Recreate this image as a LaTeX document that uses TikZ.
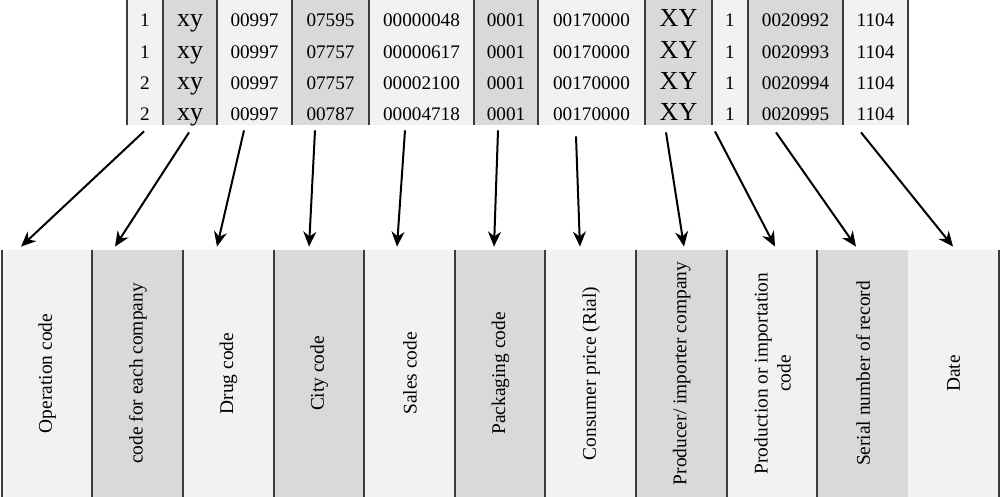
\documentclass[tikz,border=0pt]{standalone}
\usepackage{fontspec}
\setmainfont{Liberation Serif}
\usetikzlibrary{arrows.meta}
\definecolor{lite}{HTML}{F2F2F2}
\definecolor{dark}{HTML}{D9D9D9}
\definecolor{rulegray}{HTML}{3C3C3C}
\newcommand\cellfont{\fontsize{9.6}{11}\selectfont}
\newcommand\bigfont{\fontsize{13}{15}\selectfont}
\tikzstyle{column}=[inner sep=0pt, minimum height=62.5pt]
\tikzstyle{cell}=[inner sep=0pt, anchor=base]
\tikzstyle{field}=[inner sep=0pt, minimum width=45.32pt, minimum height=123.5pt]
\tikzstyle{fieldtext}=[rotate=90, align=center,
font=\fontsize{9.7}{11.5}\selectfont]
\tikzstyle{rulebar}=[draw=rulegray, line width=1pt]
\tikzstyle{pointer}=[-{Stealth[length=7.5pt,width=6.5pt]}, line width=1pt]

\begin{document}
\begin{tikzpicture}[x=0.5pt, y=-0.5pt]
	\useasboundingbox (0,0) rectangle (1000,497);
	% record columns
	\foreach \n/\lx/\rx/\fc/\f/\va/\vb/\vc/\vd in {
		1/127/163/lite/\cellfont/1/1/2/2,
		2/163/217/dark/\bigfont/xy/xy/xy/xy,
		3/217/292/lite/\cellfont/00997/00997/00997/00997,
		4/292/369/dark/\cellfont/07595/07757/07757/00787,
		5/369/474/lite/\cellfont/00000048/00000617/00002100/00004718,
		6/474/538/dark/\cellfont/0001/0001/0001/0001,
		7/538/645/lite/\cellfont/00170000/00170000/00170000/00170000,
		8/645/712/dark/\bigfont/XY/XY/XY/XY,
		9/712/748/lite/\cellfont/1/1/1/1,
		10/748/843/dark/\cellfont/0020992/0020993/0020994/0020995,
		11/843/908/lite/\cellfont/1104/1104/1104/1104}{
		\node[column, fill=\fc, minimum width={(\rx-\lx)*0.5pt}] (c\n) at ({(\lx+\rx)/2},62.5) {};
		\node[cell, font=\f] (c\n-1) at ({(\lx+\rx)/2},27) {\va};
		\node[cell, font=\f] (c\n-2) at ({(\lx+\rx)/2},58.3) {\vb};
		\node[cell, font=\f] (c\n-3) at ({(\lx+\rx)/2},89.6) {\vc};
		\node[cell, font=\f] (c\n-4) at ({(\lx+\rx)/2},121) {\vd};
	}
	\foreach \n in {1,...,11}
		\draw[rulebar] (c\n.north west) -- (c\n.south west);
	\draw[rulebar] (c11.north east) -- (c11.south east);

	% field boxes
	\foreach \n/\fc/\txt in {
		1/lite/Operation code,
		2/dark/code for each company,
		3/lite/Drug code,
		4/dark/City code,
		5/lite/Sales code,
		6/dark/Packaging code,
		7/lite/Consumer price (Rial),
		8/dark/{Producer/ importer company},
		9/lite/{Production or importation\\code},
		10/dark/Serial number of record,
		11/lite/Date}{
		\node[field, fill=\fc] (f\n) at ({2+90.64*(\n-0.5)},373.5) {};
		\node[fieldtext] (l\n) at (f\n) {\txt};
	}
	\foreach \n in {1,...,10}
		\draw[rulebar] (f\n.north west) -- (f\n.south west);
	\draw[rulebar] (f11.north east) -- (f11.south east);

	% pointers
	\foreach \n/\sx/\sy/\ex in {1/-1/6/-26.3, 2/-1/7/-23, 3/-10.5/5/-11.6,
		4/-15.5/5/-10.2, 5/-16.5/5/-12.9, 6/-8/5/-6.5, 7/-15.5/11/-11.2,
		8/-12.5/7/2.2, 9/-15/6/2.6, 10/-19.5/7/-7.1, 11/-14.5/7/-0.7}
		\draw[pointer] ([xshift=\sx*0.5pt, yshift=-\sy*0.5pt]c\n.south) -- ([xshift=\ex*0.5pt, yshift=1.5pt]f\n.north);
\end{tikzpicture}
\end{document}
